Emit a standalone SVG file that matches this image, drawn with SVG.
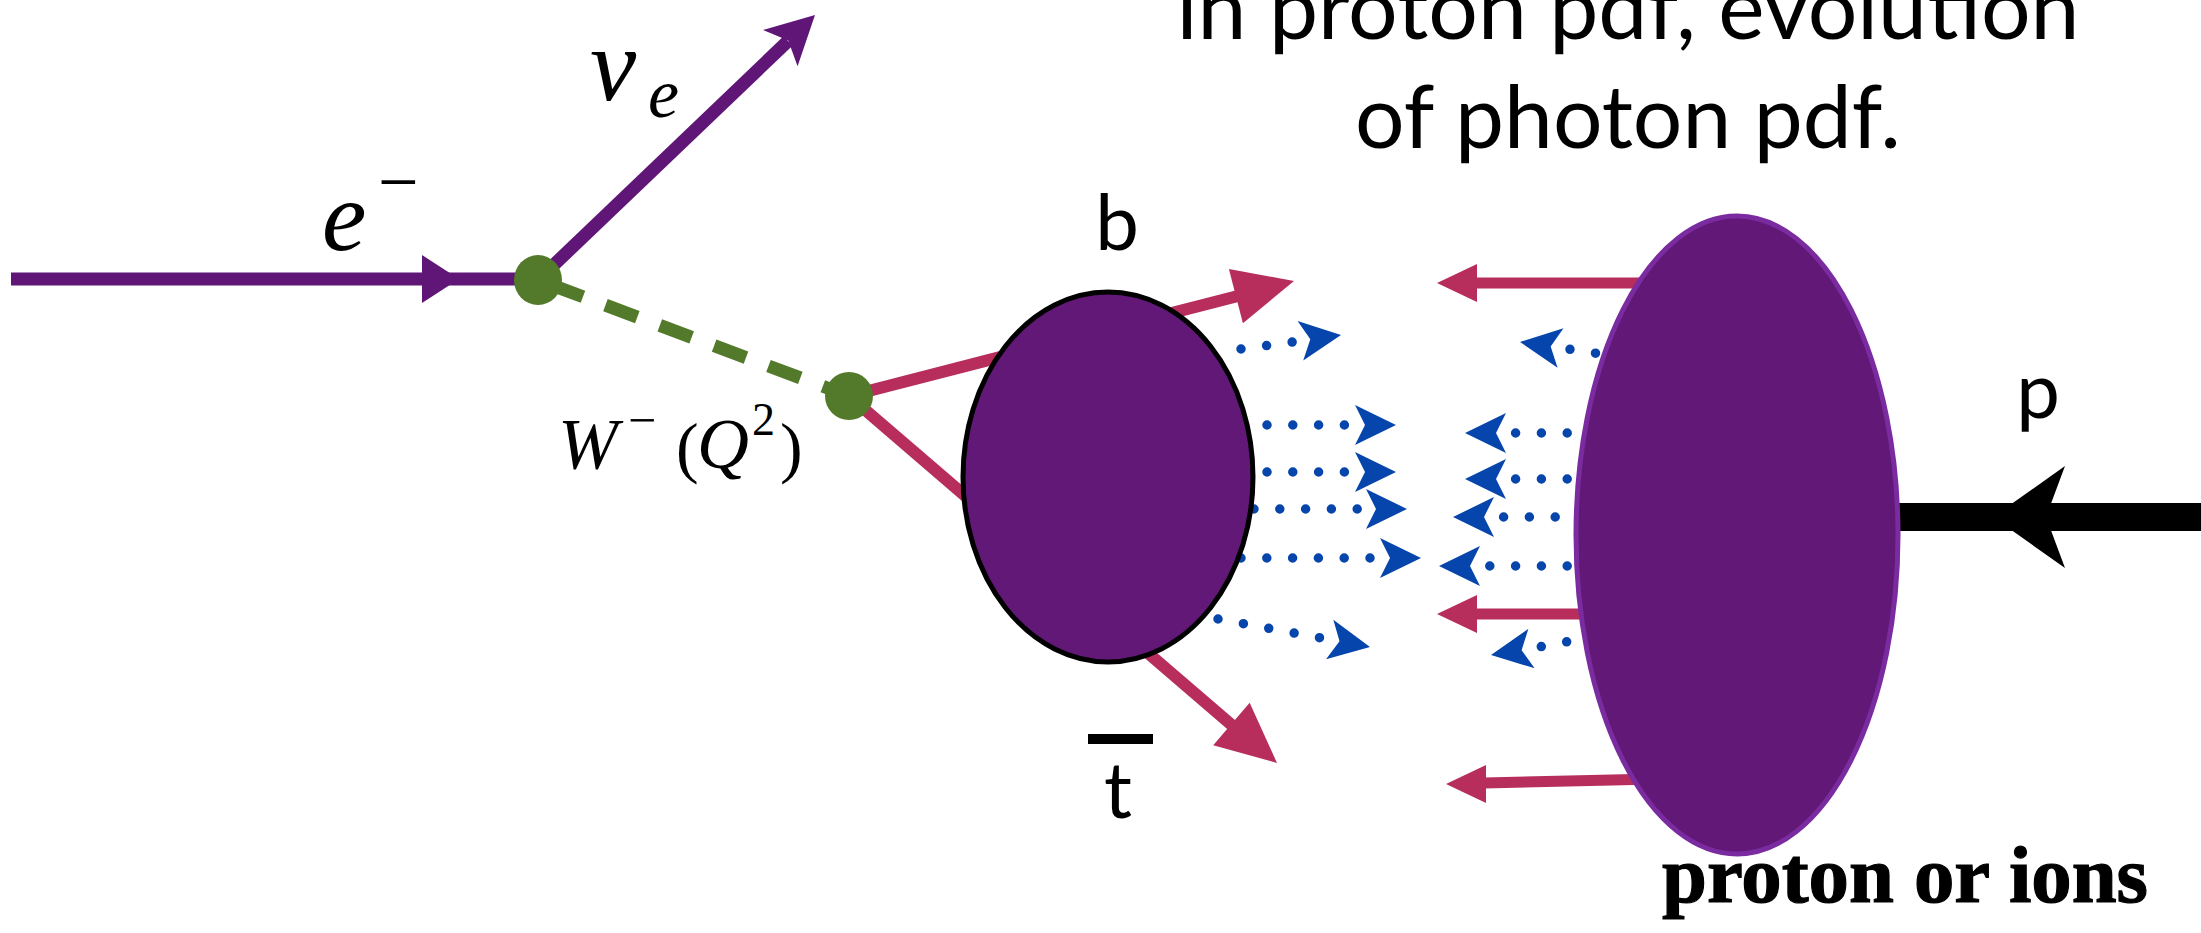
<svg xmlns="http://www.w3.org/2000/svg" xmlns:xlink="http://www.w3.org/1999/xlink" width="2201" height="933" viewBox="0 0 2201 933">
<style>
.purple{stroke:#5f1677;stroke-width:13;fill:none}
.red{stroke:#b72d5c;stroke-width:12;fill:none}
.redthin{stroke:#b72d5c;stroke-width:11;fill:none}
.dots{stroke:#0645ab;stroke-width:9.5;stroke-linecap:round;stroke-dasharray:0 25.8;fill:none}
.wdash{stroke:#537a2b;stroke-width:13;stroke-dasharray:34 24;stroke-dashoffset:-14;fill:none}
.vtx{fill:#537a2b}
.blob{fill:#611877}
.math{font-family:"Liberation Serif","Times New Roman",serif;fill:#000}
.lbl{font-family:Lato,"Open Sans",sans-serif;fill:#000}
</style>
<defs>
<path id="hRed" d="M0,0 L-60,-28 L-60,28 Z" fill="#b72d5c"/>
<path id="hRedS" d="M0,0 L-40,-19 L-40,19 Z" fill="#b72d5c"/>
<path id="hBlue" d="M0,0 L-41,-20 L-31,0 L-41,20 Z" fill="#0645ab"/>
<path id="hE" d="M0,0 L-37,-24 L-37,24 Z" fill="#5f1677"/>
<path id="hNu" d="M0,0 L-48,-25 L-37,0 L-48,25 Z" fill="#5f1677"/>
<path id="hP" d="M0,0 L-72,-51 L-53,0 L-72,51 Z" fill="#000"/>
</defs>
<g id="connectors">
<path class="purple" d="M11,279 L538,279"/>
<use xlink:href="#hE" transform="translate(459,279)"/>
<path class="purple" d="M538,280 L788,41"/>
<use xlink:href="#hNu" transform="translate(815,15) rotate(-43.7)"/>
<path class="wdash" d="M538,280 L849,396"/>
<path class="red" d="M849,396 L1238,296"/>
<use xlink:href="#hRed" transform="translate(1294,281) rotate(-14.5)"/>
<path class="red" d="M849,396 L1234,727"/>
<use xlink:href="#hRed" transform="translate(1277,763) rotate(40.6)"/>
<path class="dots" d="M1241,349 L1293,342"/>
<use xlink:href="#hBlue" transform="translate(1341,335) rotate(-8.1)"/>
<path class="dots" d="M1267,425 L1346,425"/>
<use xlink:href="#hBlue" transform="translate(1396,425)"/>
<path class="dots" d="M1267,472 L1346,472"/>
<use xlink:href="#hBlue" transform="translate(1396,472)"/>
<path class="dots" d="M1254,509 L1359,509"/>
<use xlink:href="#hBlue" transform="translate(1407,509)"/>
<path class="dots" d="M1241,558 L1371,558"/>
<use xlink:href="#hBlue" transform="translate(1421,558)"/>
<path class="dots" d="M1218,619 L1321,638"/>
<use xlink:href="#hBlue" transform="translate(1370,647) rotate(10.5)"/>
<path class="dots" d="M1621,357 L1568,349"/>
<use xlink:href="#hBlue" transform="translate(1520,342) rotate(188.5)"/>
<path class="dots" d="M1593,433 L1514,433"/>
<use xlink:href="#hBlue" transform="translate(1465,433) rotate(180)"/>
<path class="dots" d="M1593,479 L1514,479"/>
<use xlink:href="#hBlue" transform="translate(1465,479) rotate(180)"/>
<path class="dots" d="M1581,517 L1502,517"/>
<use xlink:href="#hBlue" transform="translate(1453,517) rotate(180)"/>
<path class="dots" d="M1593,566 L1488,566"/>
<use xlink:href="#hBlue" transform="translate(1439,566) rotate(180)"/>
<path class="dots" d="M1592,637 L1539,647"/>
<use xlink:href="#hBlue" transform="translate(1491,655) rotate(171)"/>
<path class="redthin" d="M1476,283 L1700,283"/>
<use xlink:href="#hRedS" transform="translate(1437,283) rotate(180)"/>
<path class="redthin" d="M1476,614 L1660,614"/>
<use xlink:href="#hRedS" transform="translate(1437,614) rotate(180)"/>
<path class="redthin" d="M1484,783 L1700,778"/>
<use xlink:href="#hRedS" transform="translate(1446,784) rotate(180)"/>
<path d="M1890,517 L2201,517" stroke="#000" stroke-width="28" fill="none"/>
<use xlink:href="#hP" transform="translate(1993,517) rotate(180)"/>
</g>
<g id="vertex1"><ellipse class="vtx" cx="538" cy="280" rx="24" ry="25"/></g>
<g id="vertex2"><ellipse class="vtx" cx="849" cy="396" rx="24" ry="24"/></g>
<g id="blob-photon"><ellipse class="blob" cx="1108" cy="477" rx="145" ry="185" stroke="#000" stroke-width="5"/></g>
<g id="blob-proton"><ellipse class="blob" cx="1737" cy="535" rx="161" ry="319" stroke="#7b2ba0" stroke-width="5"/></g>
<g id="label-electron"><text class="math" x="322" y="250" font-size="100" font-style="italic">e</text><text class="math" x="378" y="206" font-size="72">−</text></g>
<g id="label-nu"><text class="math" x="590" y="100" font-size="104" font-style="italic">ν</text><text class="math" x="648" y="117" font-size="70" font-style="italic">e</text></g>
<g id="label-W"><text class="math" font-size="72"><tspan x="558" y="468" font-style="italic">W</tspan><tspan x="628" y="437" font-size="50">−</tspan><tspan x="676" y="470" font-size="68">(</tspan><tspan x="697" y="468" font-style="italic">Q</tspan><tspan x="752" y="435" font-size="46">2</tspan><tspan x="780" y="470" font-size="68">)</tspan></text></g>
<g id="label-b"><text class="lbl" x="1117" y="250" font-size="78" text-anchor="middle">b</text></g>
<g id="label-tbar"><rect x="1088" y="734" width="65" height="10" fill="#000"/><text class="lbl" x="1118" y="818" font-size="78" text-anchor="middle">t</text></g>
<g id="label-p"><text class="lbl" x="2038" y="418" font-size="78" text-anchor="middle">p</text></g>
<g id="caption-top"><text class="lbl" x="1628" y="39" font-size="88" text-anchor="middle" textLength="903" lengthAdjust="spacingAndGlyphs">in proton pdf, evolution</text><text class="lbl" x="1628" y="148" font-size="88" text-anchor="middle" textLength="546" lengthAdjust="spacingAndGlyphs">of photon pdf.</text></g>
<g id="caption-proton"><text x="1662" y="902" font-family="Liberation Serif, serif" font-weight="bold" font-size="81" stroke="#000" stroke-width="1.2" textLength="486" lengthAdjust="spacingAndGlyphs">proton or ions</text></g>
</svg>
